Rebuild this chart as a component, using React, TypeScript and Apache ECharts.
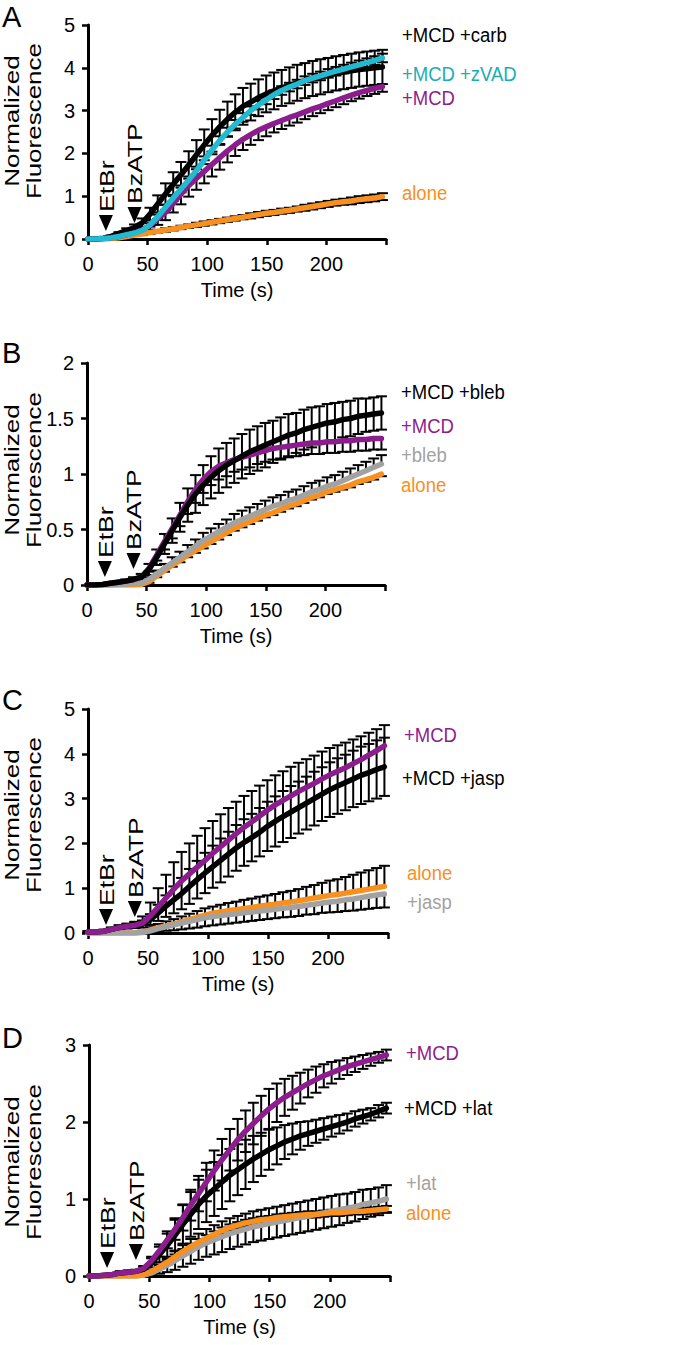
import React, { useEffect, useRef } from "react";
import * as echarts from "echarts";

const FONT = "'Liberation Sans', Arial, Helvetica, sans-serif";
const PURPLE = "#8C1D8C";
const CYAN = "#22BAD0";
const CYAN_TXT = "#1AAEB4";
const ORANGE = "#F7901E";
const GRAY = "#A2A2A2";
const BLACK = "#000000";

// time points (s)
const times = [
  0, 6.5, 13, 19.5, 26, 32.5, 39, 45.5, 52, 58.5,
  65, 71.5, 78, 84.5, 91, 97.5, 104, 110.5, 117, 123.5,
  130, 136.5, 143, 149.5, 156, 162.5, 169, 175.5, 182, 188.5,
  195, 201.5, 208, 214.5, 221, 227.5, 234, 240.5, 247,
];
const xTicks = [0, 50, 100, 150, 200];

// ---------- Panel A ----------
const aCarb = [
  0, 0, 0.02, 0.06, 0.13, 0.2, 0.27, 0.38, 0.58, 0.82,
  1.05, 1.28, 1.5, 1.73, 1.97, 2.2, 2.42, 2.62, 2.8, 2.96,
  3.1, 3.2, 3.3, 3.39, 3.46, 3.53, 3.59, 3.65, 3.7, 3.75,
  3.79, 3.83, 3.87, 3.9, 3.93, 3.96, 3.98, 4.0, 4.02,
];
const aCarbErr = [
  0, 0, 0.01, 0.02, 0.03, 0.05, 0.07, 0.1, 0.15, 0.2,
  0.25, 0.28, 0.3, 0.32, 0.34, 0.36, 0.38, 0.4, 0.41, 0.42,
  0.43, 0.43, 0.43, 0.43, 0.43, 0.42, 0.42, 0.42, 0.41, 0.41,
  0.41, 0.4, 0.4, 0.4, 0.4, 0.4, 0.4, 0.4, 0.4,
];
const aZvad = [
  0, 0, 0.01, 0.03, 0.06, 0.1, 0.14, 0.2, 0.33, 0.52,
  0.74, 0.96, 1.17, 1.38, 1.6, 1.84, 2.08, 2.3, 2.5, 2.68,
  2.84, 3.0, 3.13, 3.25, 3.37, 3.47, 3.55, 3.62, 3.7, 3.76,
  3.81, 3.87, 3.92, 3.97, 4.02, 4.07, 4.12, 4.17, 4.23,
];
const aZvadErr = [
  0, 0, 0, 0.01, 0.01, 0.02, 0.02, 0.03, 0.04, 0.05,
  0.06, 0.07, 0.08, 0.08, 0.09, 0.09, 0.1, 0.1, 0.1, 0.1,
  0.1, 0.1, 0.1, 0.1, 0.1, 0.1, 0.1, 0.1, 0.1, 0.1,
  0.1, 0.1, 0.1, 0.1, 0.1, 0.1, 0.1, 0.1, 0.1,
];
const aMcd = [
  0, 0, 0.01, 0.03, 0.06, 0.1, 0.15, 0.21, 0.32, 0.47,
  0.62, 0.83, 1.05, 1.25, 1.42, 1.58, 1.74, 1.9, 2.06, 2.2,
  2.33, 2.44, 2.54, 2.62, 2.7, 2.77, 2.84, 2.9, 2.97, 3.04,
  3.1, 3.17, 3.23, 3.3, 3.36, 3.42, 3.47, 3.52, 3.56,
];
const aMcdErr = [
  0, 0, 0, 0.01, 0.02, 0.03, 0.04, 0.06, 0.1, 0.14,
  0.18, 0.21, 0.24, 0.26, 0.27, 0.28, 0.28, 0.28, 0.27, 0.26,
  0.25, 0.24, 0.23, 0.22, 0.21, 0.2, 0.19, 0.18, 0.17, 0.17,
  0.16, 0.16, 0.15, 0.15, 0.14, 0.14, 0.13, 0.13, 0.12,
];
const aAlone = [
  0, 0, 0, 0.01, 0.03, 0.06, 0.09, 0.12, 0.15, 0.18,
  0.21, 0.24, 0.27, 0.3, 0.33, 0.36, 0.39, 0.42, 0.45, 0.48,
  0.51, 0.54, 0.57, 0.6, 0.62, 0.65, 0.67, 0.7, 0.73, 0.76,
  0.79, 0.82, 0.85, 0.87, 0.89, 0.92, 0.94, 0.96, 0.99,
];
const aAloneErr = [
  0, 0, 0, 0.01, 0.01, 0.02, 0.02, 0.03, 0.03, 0.03,
  0.04, 0.04, 0.04, 0.04, 0.05, 0.05, 0.05, 0.05, 0.05, 0.05,
  0.05, 0.06, 0.06, 0.06, 0.06, 0.06, 0.06, 0.06, 0.07, 0.07,
  0.07, 0.07, 0.07, 0.07, 0.08, 0.08, 0.08, 0.08, 0.08,
];

// ---------- Panel B ----------
const bBleb = [
  0, 0, 0.005, 0.015, 0.025, 0.035, 0.05, 0.07, 0.14, 0.25,
  0.37, 0.49, 0.61, 0.72, 0.82, 0.9, 0.97, 1.03, 1.08, 1.12,
  1.16, 1.2, 1.23, 1.26, 1.29, 1.32, 1.35, 1.37, 1.4, 1.42,
  1.44, 1.46, 1.47, 1.49, 1.5, 1.52, 1.53, 1.54, 1.55,
];
const bBlebErr = [
  0, 0, 0.005, 0.01, 0.01, 0.015, 0.02, 0.03, 0.05, 0.07,
  0.09, 0.11, 0.13, 0.15, 0.17, 0.18, 0.19, 0.2, 0.2, 0.2,
  0.2, 0.2, 0.2, 0.2, 0.19, 0.19, 0.19, 0.18, 0.18, 0.18,
  0.17, 0.17, 0.17, 0.16, 0.16, 0.16, 0.15, 0.15, 0.15,
];
const bMcd = [
  0, 0, 0.005, 0.015, 0.025, 0.035, 0.05, 0.07, 0.15, 0.27,
  0.39, 0.51, 0.63, 0.75, 0.86, 0.95, 1.02, 1.07, 1.1, 1.13,
  1.15, 1.17, 1.19, 1.21, 1.23, 1.24, 1.25, 1.26, 1.27, 1.28,
  1.28, 1.29, 1.29, 1.3, 1.3, 1.31, 1.31, 1.32, 1.32,
];
const bMcdErr = [
  0, 0, 0, 0.005, 0.01, 0.01, 0.015, 0.02, 0.03, 0.05,
  0.07, 0.09, 0.1, 0.11, 0.12, 0.12, 0.12, 0.12, 0.12, 0.11,
  0.11, 0.11, 0.1, 0.1, 0.1, 0.1, 0.1, 0.1, 0.1, 0.1,
  0.1, 0.1, 0.1, 0.1, 0.1, 0.1, 0.1, 0.1, 0.1,
];
const bBlebOnly = [
  0, 0, 0, 0, 0.005, 0.01, 0.015, 0.02, 0.05, 0.1,
  0.15, 0.2, 0.25, 0.3, 0.35, 0.4, 0.44, 0.48, 0.52, 0.56,
  0.59, 0.62, 0.65, 0.68, 0.71, 0.73, 0.76, 0.78, 0.81, 0.84,
  0.86, 0.89, 0.91, 0.94, 0.97, 1.0, 1.03, 1.06, 1.09,
];
const bBlebOnlyErr = [
  0, 0, 0, 0, 0, 0.005, 0.005, 0.01, 0.02, 0.03,
  0.04, 0.05, 0.05, 0.06, 0.06, 0.07, 0.07, 0.07, 0.07, 0.08,
  0.08, 0.08, 0.08, 0.08, 0.08, 0.08, 0.08, 0.08, 0.08, 0.08,
  0.08, 0.08, 0.08, 0.08, 0.08, 0.08, 0.08, 0.08, 0.08,
];
const bAlone = [
  0, 0, 0, 0, 0, 0, 0, 0.005, 0.03, 0.08,
  0.13, 0.18, 0.22, 0.27, 0.31, 0.35, 0.39, 0.43, 0.47, 0.51,
  0.54, 0.57, 0.6, 0.63, 0.65, 0.68, 0.71, 0.73, 0.76, 0.79,
  0.81, 0.84, 0.86, 0.88, 0.9, 0.93, 0.95, 0.97, 1.0,
];
const bAloneErr = [
  0, 0, 0, 0, 0, 0, 0, 0.005, 0.01, 0.01,
  0.01, 0.015, 0.015, 0.02, 0.02, 0.02, 0.02, 0.02, 0.02, 0.02,
  0.02, 0.02, 0.02, 0.02, 0.02, 0.02, 0.02, 0.02, 0.02, 0.02,
  0.02, 0.02, 0.02, 0.02, 0.02, 0.02, 0.02, 0.02, 0.02,
];

// ---------- Panel C ----------
const cMcd = [
  0.02, 0.02, 0.04, 0.08, 0.12, 0.15, 0.17, 0.22, 0.38, 0.58,
  0.78, 0.98, 1.16, 1.32, 1.47, 1.62, 1.78, 1.93, 2.07, 2.22,
  2.36, 2.48, 2.61, 2.74, 2.86, 2.96, 3.06, 3.16, 3.25, 3.34,
  3.44, 3.53, 3.61, 3.69, 3.78, 3.87, 3.97, 4.07, 4.18,
];
const cMcdErr = [
  0.02, 0.02, 0.03, 0.04, 0.05, 0.06, 0.08, 0.15, 0.3, 0.42,
  0.52, 0.6, 0.65, 0.68, 0.7, 0.72, 0.72, 0.72, 0.72, 0.71,
  0.7, 0.69, 0.68, 0.67, 0.66, 0.65, 0.65, 0.64, 0.63, 0.62,
  0.61, 0.6, 0.58, 0.56, 0.54, 0.52, 0.5, 0.48, 0.46,
];
const cJasp = [
  0.02, 0.02, 0.04, 0.08, 0.12, 0.15, 0.17, 0.2, 0.3, 0.45,
  0.6, 0.74, 0.88, 1.04, 1.19, 1.34, 1.48, 1.62, 1.76, 1.9,
  2.02, 2.13, 2.25, 2.38, 2.49, 2.6, 2.7, 2.8, 2.9, 3.0,
  3.1, 3.2, 3.28, 3.36, 3.44, 3.52, 3.58, 3.65, 3.71,
];
const cJaspErr = [
  0.02, 0.02, 0.03, 0.04, 0.05, 0.05, 0.06, 0.08, 0.12, 0.18,
  0.24, 0.3, 0.35, 0.39, 0.42, 0.45, 0.47, 0.49, 0.5, 0.51,
  0.52, 0.53, 0.54, 0.55, 0.56, 0.57, 0.58, 0.58, 0.59, 0.6,
  0.6, 0.61, 0.62, 0.62, 0.63, 0.64, 0.64, 0.65, 0.65,
];
const cAlone = [
  0, 0, 0, 0, 0, 0, 0, 0.02, 0.07, 0.12,
  0.16, 0.2, 0.25, 0.3, 0.35, 0.4, 0.44, 0.47, 0.5, 0.52,
  0.55, 0.57, 0.6, 0.62, 0.64, 0.67, 0.69, 0.72, 0.75, 0.78,
  0.81, 0.84, 0.86, 0.89, 0.92, 0.95, 0.98, 1.01, 1.04,
];
const cAloneErr = [
  0, 0, 0, 0, 0, 0, 0, 0.03, 0.06, 0.08,
  0.1, 0.11, 0.12, 0.13, 0.14, 0.15, 0.15, 0.16, 0.17, 0.18,
  0.19, 0.2, 0.21, 0.22, 0.23, 0.24, 0.25, 0.26, 0.28, 0.29,
  0.31, 0.33, 0.34, 0.36, 0.38, 0.4, 0.42, 0.44, 0.46,
];
const cJaspOnly = [
  0, 0, 0, 0, 0, 0, 0, 0.01, 0.05, 0.1,
  0.14, 0.18, 0.22, 0.26, 0.3, 0.34, 0.37, 0.39, 0.41, 0.43,
  0.45, 0.47, 0.49, 0.51, 0.53, 0.55, 0.57, 0.59, 0.62, 0.64,
  0.67, 0.69, 0.71, 0.74, 0.76, 0.79, 0.82, 0.85, 0.87,
];
const cJaspOnlyErr = [
  0, 0, 0, 0, 0, 0, 0, 0.01, 0.03, 0.06,
  0.09, 0.12, 0.14, 0.16, 0.18, 0.19, 0.2, 0.2, 0.2, 0.2,
  0.2, 0.2, 0.2, 0.2, 0.2, 0.2, 0.21, 0.21, 0.21, 0.22,
  0.22, 0.23, 0.24, 0.25, 0.26, 0.27, 0.28, 0.29, 0.3,
];

// ---------- Panel D ----------
const dMcd = [
  0, 0, 0.01, 0.02, 0.04, 0.05, 0.06, 0.1, 0.2, 0.33,
  0.47, 0.61, 0.76, 0.92, 1.07, 1.22, 1.37, 1.51, 1.64, 1.77,
  1.88, 1.98, 2.08, 2.17, 2.25, 2.32, 2.38, 2.44, 2.5, 2.55,
  2.6, 2.64, 2.68, 2.72, 2.75, 2.78, 2.81, 2.84, 2.87,
];
const dMcdErr = [
  0, 0, 0.01, 0.01, 0.02, 0.02, 0.02, 0.03, 0.05, 0.08,
  0.11, 0.14, 0.17, 0.2, 0.23, 0.25, 0.26, 0.27, 0.27, 0.27,
  0.27, 0.27, 0.26, 0.26, 0.25, 0.24, 0.22, 0.2, 0.18, 0.17,
  0.15, 0.14, 0.12, 0.11, 0.1, 0.09, 0.08, 0.07, 0.07,
];
const dLat = [
  0, 0, 0.01, 0.02, 0.04, 0.05, 0.06, 0.09, 0.17, 0.28,
  0.4, 0.53, 0.67, 0.8, 0.93, 1.04, 1.13, 1.22, 1.31, 1.38,
  1.45, 1.52, 1.58, 1.64, 1.69, 1.74, 1.78, 1.82, 1.85, 1.88,
  1.91, 1.94, 1.97, 2.0, 2.04, 2.07, 2.1, 2.14, 2.18,
];
const dLatErr = [
  0, 0, 0.01, 0.01, 0.02, 0.02, 0.02, 0.03, 0.06, 0.1,
  0.15, 0.2, 0.25, 0.29, 0.32, 0.34, 0.35, 0.35, 0.34, 0.33,
  0.32, 0.3, 0.28, 0.26, 0.24, 0.22, 0.2, 0.18, 0.16, 0.15,
  0.14, 0.13, 0.12, 0.11, 0.1, 0.09, 0.08, 0.08, 0.07,
];
const dLatOnly = [
  0, 0, 0, 0, 0, 0, 0, 0.01, 0.04, 0.09,
  0.14, 0.2, 0.26, 0.32, 0.38, 0.43, 0.47, 0.51, 0.55, 0.58,
  0.61, 0.64, 0.66, 0.68, 0.7, 0.72, 0.74, 0.76, 0.78, 0.8,
  0.82, 0.84, 0.86, 0.88, 0.9, 0.93, 0.95, 0.97, 1.0,
];
const dLatOnlyErr = [
  0, 0, 0, 0, 0, 0, 0, 0.01, 0.03, 0.06,
  0.09, 0.12, 0.14, 0.16, 0.17, 0.18, 0.19, 0.2, 0.2, 0.2,
  0.2, 0.2, 0.2, 0.2, 0.2, 0.2, 0.2, 0.2, 0.2, 0.2,
  0.2, 0.2, 0.2, 0.19, 0.19, 0.19, 0.18, 0.18, 0.18,
];
const dAlone = [
  0, 0, 0, 0, 0, 0, 0, 0.02, 0.06, 0.12,
  0.18, 0.25, 0.32, 0.38, 0.44, 0.49, 0.54, 0.59, 0.63, 0.66,
  0.69, 0.71, 0.73, 0.74, 0.76, 0.77, 0.78, 0.79, 0.8, 0.8,
  0.81, 0.82, 0.82, 0.83, 0.84, 0.84, 0.85, 0.86, 0.87,
];
const dAloneErr = [
  0, 0, 0, 0, 0, 0, 0, 0.01, 0.02, 0.02,
  0.03, 0.03, 0.03, 0.04, 0.04, 0.04, 0.04, 0.04, 0.04, 0.04,
  0.04, 0.04, 0.04, 0.04, 0.04, 0.04, 0.04, 0.04, 0.04, 0.04,
  0.04, 0.04, 0.04, 0.04, 0.04, 0.04, 0.04, 0.04, 0.04,
];

type Dir = "up" | "down" | "both";
type Curve = { values: number[]; err: number[]; dir: Dir; color: string };
type Label = { text: string; color: string; y: number; dx?: number };
type Panel = {
  letter: string;
  letterY: number;
  grid: { left: number; top: number; width: number; height: number };
  yMax: number;
  yInterval: number;
  titleY: number;
  curves: Curve[];
  labels: Label[];
};

const panels: Panel[] = [
  {
    letter: "A",
    letterY: 17,
    grid: { left: 88, top: 25, width: 298, height: 214 },
    yMax: 5,
    yInterval: 1,
    titleY: 121,
    curves: [
      { values: aAlone, err: aAloneErr, dir: "both", color: ORANGE },
      { values: aMcd, err: aMcdErr, dir: "down", color: PURPLE },
      { values: aCarb, err: aCarbErr, dir: "both", color: BLACK },
      { values: aZvad, err: aZvadErr, dir: "both", color: CYAN },
    ],
    labels: [
      { text: "+MCD +carb", color: BLACK, y: 35 },
      { text: "+MCD +zVAD", color: CYAN_TXT, y: 74 },
      { text: "+MCD", color: PURPLE, y: 98 },
      { text: "alone", color: ORANGE, y: 193 },
    ],
  },
  {
    letter: "B",
    letterY: 353,
    grid: { left: 87, top: 363, width: 298, height: 222 },
    yMax: 2,
    yInterval: 0.5,
    titleY: 470,
    curves: [
      { values: bAlone, err: bAloneErr, dir: "down", color: ORANGE },
      { values: bBlebOnly, err: bBlebOnlyErr, dir: "up", color: GRAY },
      { values: bMcd, err: bMcdErr, dir: "down", color: PURPLE },
      { values: bBleb, err: bBlebErr, dir: "both", color: BLACK },
    ],
    labels: [
      { text: "+MCD +bleb", color: BLACK, y: 392 },
      { text: "+MCD", color: PURPLE, y: 426 },
      { text: "+bleb", color: GRAY, y: 455 },
      { text: "alone", color: ORANGE, y: 485 },
    ],
  },
  {
    letter: "C",
    letterY: 700,
    grid: { left: 88, top: 709, width: 300, height: 224 },
    yMax: 5,
    yInterval: 1,
    titleY: 815,
    curves: [
      { values: cAlone, err: cAloneErr, dir: "up", color: ORANGE },
      { values: cJaspOnly, err: cJaspOnlyErr, dir: "down", color: GRAY },
      { values: cJasp, err: cJaspErr, dir: "both", color: BLACK },
      { values: cMcd, err: cMcdErr, dir: "up", color: PURPLE },
    ],
    labels: [
      { text: "+MCD", color: PURPLE, y: 735 },
      { text: "+MCD +jasp", color: BLACK, y: 778, dx: -2 },
      { text: "alone", color: ORANGE, y: 873, dx: 3 },
      { text: "+jasp", color: GRAY, y: 902, dx: 3 },
    ],
  },
  {
    letter: "D",
    letterY: 1038,
    grid: { left: 89, top: 1045, width: 301, height: 231 },
    yMax: 3,
    yInterval: 1,
    titleY: 1162,
    curves: [
      { values: dLatOnly, err: dLatOnlyErr, dir: "both", color: GRAY },
      { values: dAlone, err: dAloneErr, dir: "both", color: ORANGE },
      { values: dLat, err: dLatErr, dir: "both", color: BLACK },
      { values: dMcd, err: dMcdErr, dir: "both", color: PURPLE },
    ],
    labels: [
      { text: "+MCD", color: PURPLE, y: 1053 },
      { text: "+MCD +lat", color: BLACK, y: 1108, dx: -2 },
      { text: "+lat", color: GRAY, y: 1183 },
      { text: "alone", color: ORANGE, y: 1213 },
    ],
  },
];

const EVENTS = [
  { text: "EtBr", t: 15, tipAbove: 8 },
  { text: "BzATP", t: 39, tipAbove: 16 },
];

function errorSeries(idx: number, c: Curve) {
  return {
    type: "custom",
    xAxisIndex: idx,
    yAxisIndex: idx,
    z: 2,
    silent: true,
    clip: false,
    encode: { x: 0, y: 1 },
    data: times.map((t, i) => [t, c.values[i], c.err[i]]),
    renderItem: (_p: any, api: any) => {
      const t = api.value(0);
      const v = api.value(1);
      const e = api.value(2);
      const children: any[] = [];
      if (e > 0) {
        const p = api.coord([t, v]);
        const ends: number[][] = [];
        if (c.dir !== "down") ends.push(api.coord([t, v + e]));
        if (c.dir !== "up") ends.push(api.coord([t, v - e]));
        const style = { stroke: "#000", lineWidth: 2 };
        for (const q of ends) {
          children.push({ type: "line", shape: { x1: p[0], y1: p[1], x2: q[0], y2: q[1] }, style });
          children.push({ type: "line", shape: { x1: q[0] - 5.5, y1: q[1], x2: q[0] + 5.5, y2: q[1] }, style });
        }
      }
      return { type: "group", children };
    },
  };
}

function lineSeries(idx: number, c: Curve) {
  return {
    type: "line",
    xAxisIndex: idx,
    yAxisIndex: idx,
    z: 3,
    silent: true,
    showSymbol: false,
    symbol: "none",
    data: times.map((t, i) => [t, c.values[i]]),
    lineStyle: { width: 5.5, color: c.color, cap: "round", join: "round" },
    itemStyle: { color: c.color },
  };
}

export default function App() {
  const ref = useRef<HTMLDivElement>(null);
  useEffect(() => {
    if (!ref.current) return;
    document.body.style.margin = "0";
    const chart = echarts.init(ref.current, undefined, { renderer: "svg" });
    const axisText = { fontSize: 19, color: "#000", fontFamily: FONT };
    const option: any = {
      animation: false,
      backgroundColor: "#fff",
      textStyle: { fontFamily: FONT },
      grid: panels.map((p) => ({ ...p.grid, containLabel: false, outerBoundsMode: "none" })),
      xAxis: panels.map((_p, i) => ({
        type: "value",
        gridIndex: i,
        min: 0,
        max: 250,
        interval: 50,
        axisLine: { show: true, onZero: false, lineStyle: { color: "#000", width: 3 } },
        axisTick: { show: true, length: 6, lineStyle: { color: "#000", width: 2.5 } },
        splitLine: { show: false },
        axisLabel: {
          ...axisText,
          fontSize: 20,
          margin: 15,
          formatter: (v: number) => (xTicks.indexOf(v) >= 0 ? String(v) : ""),
        },
        name: "Time (s)",
        nameLocation: "middle",
        nameGap: 41,
        nameTextStyle: { ...axisText, fontSize: 20 },
      })),
      yAxis: panels.map((p, i) => ({
        type: "value",
        gridIndex: i,
        min: 0,
        max: p.yMax,
        interval: p.yInterval,
        axisLine: { show: true, onZero: false, lineStyle: { color: "#000", width: 3 } },
        axisTick: { show: true, length: 6, lineStyle: { color: "#000", width: 2.5 } },
        splitLine: { show: false },
        axisLabel: { ...axisText, fontSize: 20, margin: 13 },
      })),
      series: panels.flatMap((p, i) => [
        ...p.curves.map((c) => errorSeries(i, c)),
        ...p.curves.map((c) => lineSeries(i, c)),
      ]),
    };
    chart.setOption(option);

    const graphics: any[] = [];
    panels.forEach((p, i) => {
      const right = p.grid.left + p.grid.width;
      graphics.push({
        type: "text",
        x: 2,
        y: p.letterY,
        style: { text: p.letter, fontSize: 29, fontFamily: FONT, fill: "#000", align: "left", verticalAlign: "middle" },
      });
      graphics.push({
        type: "text",
        x: 12,
        y: p.titleY,
        rotation: Math.PI / 2,
        scaleX: 1.3,
        style: { text: "Normalized", fontSize: 20, fontFamily: FONT, fill: "#000", align: "center", verticalAlign: "middle" },
      });
      graphics.push({
        type: "text",
        x: 34,
        y: p.titleY,
        rotation: Math.PI / 2,
        scaleX: 1.3,
        style: { text: "Fluorescence", fontSize: 20, fontFamily: FONT, fill: "#000", align: "center", verticalAlign: "middle" },
      });
      p.labels.forEach((l) => {
        graphics.push({
          type: "text",
          x: right + 16 + (l.dx || 0),
          y: l.y,
          scaleX: 0.88,
          style: { text: l.text, fontSize: 21, fontFamily: FONT, fill: l.color, align: "left", verticalAlign: "middle" },
        });
      });
      const y0 = chart.convertToPixel({ yAxisIndex: i } as any, 0) as number;
      EVENTS.forEach((ev) => {
        const x = chart.convertToPixel({ xAxisIndex: i } as any, ev.t) as number;
        const tip = y0 - ev.tipAbove;
        const top = tip - 16;
        graphics.push({
          type: "polygon",
          shape: { points: [[x - 7, top], [x + 7, top], [x, tip]] },
          style: { fill: "#000" },
        });
        graphics.push({
          type: "text",
          x: x + 1,
          y: top - 3,
          rotation: Math.PI / 2,
          scaleX: 1.33,
          style: { text: ev.text, fontSize: 20, fontFamily: FONT, fill: "#000", align: "left", verticalAlign: "middle" },
        });
      });
    });
    chart.setOption({ graphic: graphics });

    return () => chart.dispose();
  }, []);
  return (
    <div
      ref={ref}
      style={{ position: "absolute", left: 0, top: 0, width: 693, height: 1345, background: "#fff" }}
    />
  );
}
